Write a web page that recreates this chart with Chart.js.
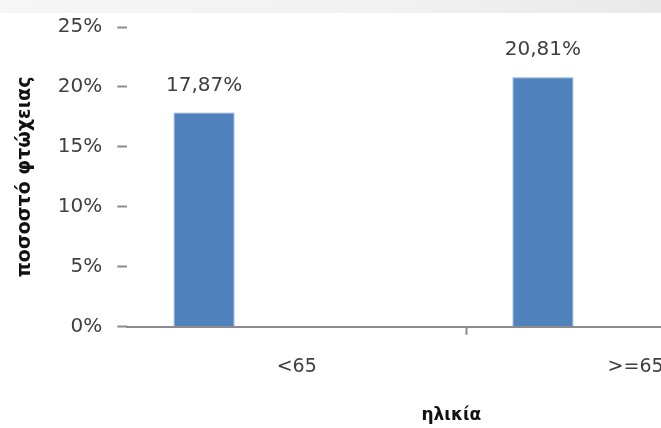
<!DOCTYPE html>
<html>
<head>
<meta charset="utf-8">
<script src="https://cdn.jsdelivr.net/npm/chart.js@4/dist/chart.umd.min.js"></script>
<style>
    html, body { margin: 0; padding: 0; background: #fff; overflow: hidden; }
    #wrap { position: relative; width: 661px; height: 428px; overflow: hidden; }
    #band { position: absolute; left: 0; top: 0; width: 661px; height: 13px;
            background: linear-gradient(to right, #f6f6f6, #f1f1f1 60%, #e9e9e9); }
    #chart { position: absolute; left: 0; top: 0; }
</style>
</head>
<body>
<div id="wrap">
    <div id="band"></div>
    <canvas id="chart" width="810" height="428"></canvas>
</div>
<script>
// δεδομένα
const ageGroups = ['<65', '>=65'];
const povertyRate = [17.87, 20.81];
const emptySeries = [null, null];
const yTicks = [0, 5, 10, 15, 20, 25];

const textColor = '#404040';
const axisColor = '#8c8c8c';

// ετικέτες τιμών πάνω από τις μπάρες
const valueLabels = {
    id: 'valueLabels',
    afterDatasetsDraw(chart) {
        const ctx = chart.ctx;
        const meta = chart.getDatasetMeta(0);
        ctx.save();
        ctx.font = '20px "DejaVu Sans"';
        ctx.fillStyle = textColor;
        ctx.textAlign = 'center';
        ctx.textBaseline = 'middle';
        meta.data.forEach((bar, i) => {
            const v = povertyRate[i];
            if (v == null) return;
            ctx.fillText(v.toFixed(2).replace('.', ',') + '%', bar.x, bar.y - 27);
        });
        ctx.restore();
    }
};

new Chart(document.getElementById('chart'), {
    type: 'bar',
    data: {
        labels: ageGroups,
        datasets: [
            { data: povertyRate, backgroundColor: '#4F81BD', borderColor: '#7fa6d6', borderWidth: 1 },
            { data: emptySeries },
            { data: emptySeries }
        ]
    },
    options: {
        responsive: false,
        animation: false,
        categoryPercentage: 0.82,
        barPercentage: 0.66,
        layout: { padding: { top: 9, left: 0, right: 5, bottom: 0 } },
        plugins: {
            legend: { display: false },
            tooltip: { enabled: false }
        },
        scales: {
            x: {
                grid: {
                    offset: true,
                    drawOnChartArea: false,
                    drawTicks: true,
                    tickLength: 8,
                    tickWidth: 2,
                    color: ctx => ctx.index === 1 ? axisColor : 'rgba(0,0,0,0)'
                },
                border: { display: true, color: axisColor, width: 2 },
                ticks: {
                    color: textColor,
                    font: { family: 'DejaVu Sans', size: 19 },
                    padding: 21,
                    maxRotation: 0
                },
                title: {
                    display: true,
                    text: 'ηλικία     ',
                    color: '#111',
                    font: { family: 'DejaVu Sans', size: 17, weight: 'bold' },
                    padding: { top: 6, bottom: 2 }
                }
            },
            y: {
                min: 0,
                max: 25,
                afterBuildTicks: axis => { axis.ticks = yTicks.map(v => ({ value: v })); },
                grid: {
                    drawOnChartArea: false,
                    drawTicks: true,
                    tickLength: 10,
                    tickWidth: 2,
                    color: axisColor
                },
                border: { display: false },
                ticks: {
                    color: textColor,
                    font: { family: 'DejaVu Sans', size: 20 },
                    padding: 15,
                    callback: v => v + '%'
                },
                title: {
                    display: true,
                    text: 'ποσοστό φτώχειας',
                    color: '#111',
                    font: { family: 'DejaVu Sans', size: 19, weight: 'bold' },
                    padding: { top: 14, bottom: 6 }
                }
            }
        }
    },
    plugins: [valueLabels]
});
</script>
</body>
</html>
